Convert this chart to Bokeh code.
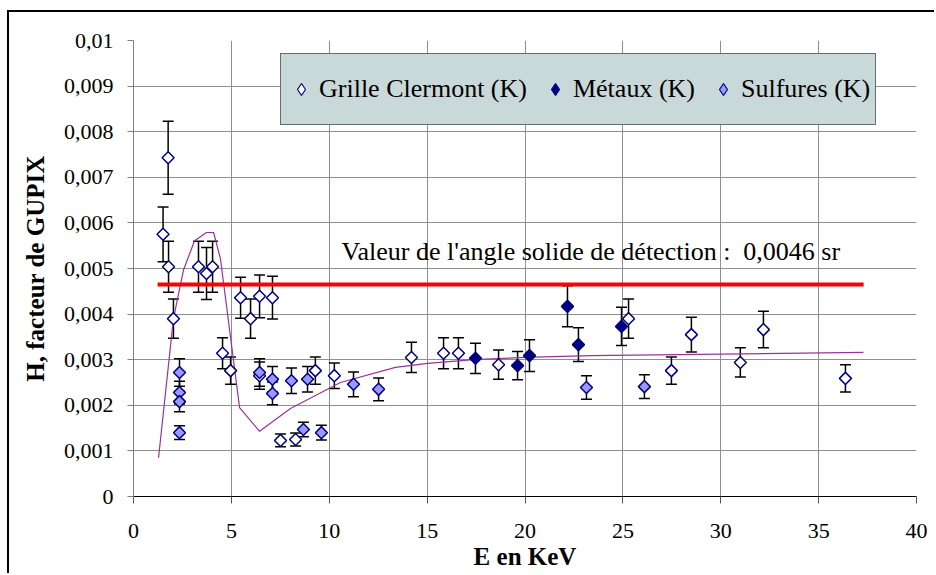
import numpy as np
from bokeh.plotting import figure
from bokeh.models import (ColumnDataSource, Whisker, TeeHead, Label, Legend, LegendItem,
                          FixedTicker, CustomJSTickFormatter, Range1d)
from bokeh.embed import file_html
from bokeh.resources import INLINE

# ---------------- data ----------------
clermont_x = [1.51, 1.77, 1.79, 2.04, 3.32, 3.73, 4.04, 4.55, 4.96, 5.47, 5.98, 6.44, 7.10, 6.44,
              7.51, 8.28, 9.29, 10.26, 14.2, 15.84, 16.6, 18.65, 25.29, 28.5, 27.48, 31.0, 32.18, 36.37]
clermont_y = [0.00575, 0.00743, 0.00504, 0.0039, 0.00504, 0.00489, 0.00504, 0.00314, 0.00276, 0.00436,
              0.0039, 0.00439, 0.00436, 0.00265, 0.00123, 0.00125, 0.00276, 0.00265, 0.00305, 0.00314,
              0.00314, 0.00289, 0.0039, 0.00355, 0.00276, 0.00294, 0.00366, 0.00259]
clermont_err = [0.0006, 0.0008, 0.00056, 0.00043, 0.00056, 0.00057, 0.00056, 0.00034, 0.0003, 0.00045,
                0.00043, 0.00047, 0.00047, 0.0003, 0.00014, 0.00014, 0.0003, 0.00028, 0.00033, 0.00034,
                0.00034, 0.00032, 0.00043, 0.00038, 0.0003, 0.00032, 0.0004, 0.0003]

metaux_x = [17.47, 19.62, 20.23, 22.17, 22.73, 24.93]
metaux_y = [0.00303, 0.00287, 0.00309, 0.00417, 0.00333, 0.00373]
metaux_err = [0.00033, 0.00031, 0.00035, 0.00045, 0.00037, 0.00042]

sulfures_x = [2.35, 2.35, 2.35, 2.35, 6.44, 7.10, 7.10, 8.07, 8.89, 8.68, 9.60, 11.24, 12.52, 23.14, 26.1]
sulfures_y = [0.00272, 0.00228, 0.00208, 0.0014, 0.00272, 0.00257, 0.00226, 0.00254, 0.00257, 0.00147,
              0.0014, 0.00246, 0.00235, 0.00239, 0.00241]
sulfures_err = [0.0003, 0.00025, 0.00022, 0.00015, 0.0003, 0.00028, 0.00025, 0.00028, 0.00028, 0.00016,
                0.00016, 0.00027, 0.00025, 0.00026, 0.00026]

theory_x = [1.28, 2.04, 2.55, 3.12, 3.73, 4.09, 4.44, 5.42, 6.44, 8.02, 10.57, 13.38, 15.02, 17.37,
            20.03, 23.35, 37.29]
theory_y = [0.00085, 0.0039, 0.00496, 0.00561, 0.00579, 0.00579, 0.00522, 0.00195, 0.00143, 0.00193,
            0.0025, 0.00283, 0.00292, 0.003, 0.00305, 0.00309, 0.00316]

solid_angle = 0.00465
solid_x = [1.23, 37.3]

x_ticks = [0, 5, 10, 15, 20, 25, 30, 35, 40]
y_ticks = [0, 0.001, 0.002, 0.003, 0.004, 0.005, 0.006, 0.007, 0.008, 0.009, 0.01]

legend_labels = ["Grille Clermont (K)", "Métaux (K)", "Sulfures (K)"]
annot_text = "Valeur de l'angle solide de détection :\u00a0\u00a00,0046 sr"
x_title = "E en KeV"
y_title = "H, facteur de GUPIX"

# ---------------- figure ----------------
SERIF = "Liberation Serif"
p = figure(width=927, height=563, output_backend="svg", toolbar_location=None,
           x_range=Range1d(0, 40), y_range=Range1d(0, 0.01),
           min_border_left=124, min_border_right=20, min_border_top=28, min_border_bottom=79)
p.styles = {"margin-left": "7px", "margin-top": "10px",
            "border-left": "2px solid black", "border-top": "2px solid black"}
p.outline_line_color = None
p.background_fill_color = "white"
p.border_fill_color = "white"

for g in (p.xgrid[0], p.ygrid[0]):
    g.grid_line_color = "#8f8f8f"
    g.grid_line_width = 1
p.xgrid[0].ticker = FixedTicker(ticks=x_ticks)
p.ygrid[0].ticker = FixedTicker(ticks=y_ticks)

xa = p.xaxis[0]
xa.ticker = FixedTicker(ticks=x_ticks)
xa.axis_line_color = "black"
xa.major_tick_line_color = "#555555"
xa.major_tick_out = 7
xa.major_tick_in = 0
xa.minor_tick_line_color = None
xa.major_label_text_font = SERIF
xa.major_label_text_font_size = "22px"
xa.major_label_text_color = "black"
xa.major_label_standoff = 20
xa.axis_label = x_title
xa.axis_label_text_font = SERIF
xa.axis_label_text_font_style = "bold"
xa.axis_label_text_font_size = "25px"
xa.axis_label_text_color = "black"
xa.axis_label_standoff = 2

ya = p.yaxis[0]
ya.ticker = FixedTicker(ticks=y_ticks)
ya.formatter = CustomJSTickFormatter(code="""
    if (Math.abs(tick) < 1e-12) { return "0"; }
    return tick.toFixed(3).replace(/0+$/, "").replace(".", ",");
""")
ya.axis_line_color = "#808080"
ya.major_tick_line_color = "#808080"
ya.major_tick_out = 6
ya.major_tick_in = 0
ya.minor_tick_line_color = None
ya.major_label_text_font = SERIF
ya.major_label_text_font_size = "22px"
ya.major_label_text_color = "black"
ya.major_label_standoff = 14
ya.axis_label = y_title
ya.axis_label_text_font = SERIF
ya.axis_label_text_font_style = "bold"
ya.axis_label_text_font_size = "25px"
ya.axis_label_text_color = "black"
ya.axis_label_standoff = 12

# theory curve and solid-angle line
p.line(theory_x, theory_y, line_color="#993399", line_width=1.2)
p.line(solid_x, [solid_angle, solid_angle], line_color="#ff0000", line_width=4)

# series with error bars
NAVY = "#000080"
series = [
    (clermont_x, clermont_y, clermont_err, "white"),
    (metaux_x, metaux_y, metaux_err, NAVY),
    (sulfures_x, sulfures_y, sulfures_err, "#9999ff"),
]
legend_renderers = []
for xs, ys, es, fill in series:
    src = ColumnDataSource(dict(x=xs, y=ys,
                                upper=[a + b for a, b in zip(ys, es)],
                                lower=[a - b for a, b in zip(ys, es)]))
    w = Whisker(source=src, base="x", upper="upper", lower="lower", dimension="height",
                line_color="black", line_width=1.5,
                upper_head=TeeHead(size=11, line_color="black", line_width=1.5),
                lower_head=TeeHead(size=11, line_color="black", line_width=1.5))
    p.add_layout(w)
    p.scatter("x", "y", source=src, marker="square", angle=np.pi / 4, size=8.5,
              fill_color=fill, line_color=NAVY, line_width=1.5)
    # hidden proxy on the same data, only used to draw a diamond in the legend
    lr = p.scatter("x", "y", source=src, marker="diamond", size=12, fill_color=fill,
                   line_color=NAVY, line_width=1.2, visible=False)
    legend_renderers.append(lr)

# annotation text
p.add_layout(Label(x=10.63, y=0.00537, text=annot_text, text_font=SERIF,
                   text_font_size="26px", text_baseline="middle", text_color="black"))

legend = Legend(items=[LegendItem(label=lab, renderers=[r], index=0)
                       for lab, r in zip(legend_labels, legend_renderers)],
                orientation="horizontal", location=(147, 371),
                label_text_font=SERIF, label_text_font_size="26px", label_text_color="black",
                glyph_width=30, glyph_height=30, label_height=60, label_standoff=3,
                spacing=13, padding=5, margin=0,
                inactive_fill_alpha=0.0,
                background_fill_color="#c9d9d9", background_fill_alpha=1.0,
                border_line_color="black", border_line_width=1.2)
p.add_layout(legend, "center")

open("out.html", "w").write(file_html(p, INLINE))
